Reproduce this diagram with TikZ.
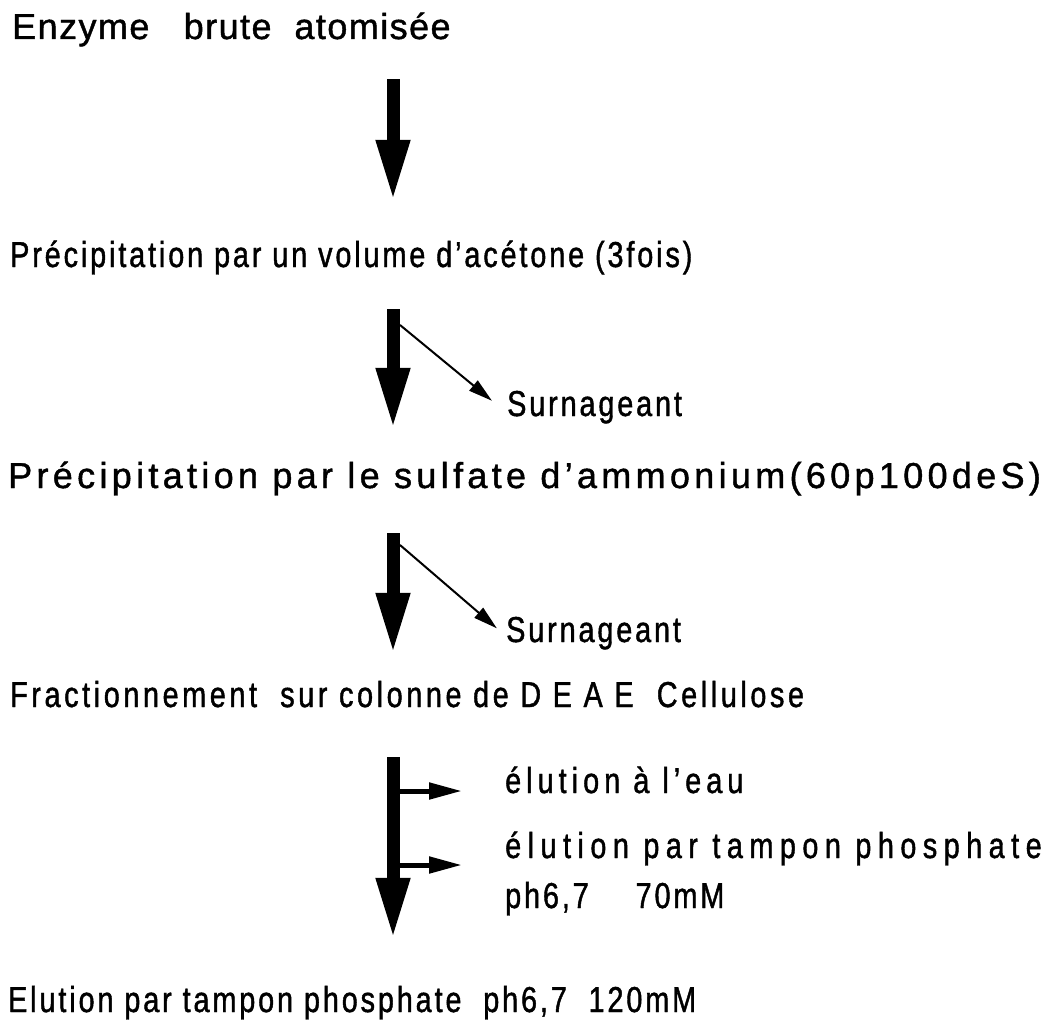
\documentclass[tikz,border=0pt]{standalone}
\usepackage{fontspec}
\setmainfont{Liberation Sans}[FakeStretch=0.8, LetterSpace=8, FakeBold=1.2]
\newfontfamily\widefont{Liberation Sans}[Ligatures=TeX, FakeBold=1.2]
\usetikzlibrary{arrows.meta}

\begin{document}
\begin{tikzpicture}[
  x=1pt, y=-1pt,
  font=\fontsize{36}{50}\selectfont,
  stage/.style={anchor=base west, inner sep=0pt, text height=26pt, text depth=8pt},
  side/.style={anchor=base west, inner sep=0pt, align=left},
  main/.style={line width=13pt, -{Triangle[length=62pt,width=31pt]}},
  waste/.style={line width=2pt, -{Triangle[length=24pt,width=13pt]}},
  branch/.style={line width=5pt, -{Triangle[length=33pt,width=16pt]}},
]
\useasboundingbox (0,0) rectangle (1054,1030);

\node[stage] (s1) at (12,39) {\widefont\addfontfeature{LetterSpace=4}Enzyme\ \ \ brute\ \ atomisée};
\node[stage] (s2) at (10,267) {Précipitation par un volume d'acétone (3fois)};
\node[stage] (s3) at (8,488) {\widefont\addfontfeature{LetterSpace=12}Précipitation par le sulfate d'ammonium(60p100deS)};
\node[stage] (s4) at (10,707) {\addfontfeature{LetterSpace=10}Fractionnement\ \ sur colonne de D E A E\ \ Cellulose};
\node[stage] (s5) at (8,1012) {Elution par tampon phosphate\ \ ph6,7\ \ 120mM};

\node[side] (sur1) at (507,416) {Surnageant};
\node[side] (sur2) at (506,642) {Surnageant};
\node[side] (elu1) at (505,793) {\addfontfeature{LetterSpace=14}élution à l'eau};
\node[side] (elu2) at (505,908) {\addfontfeature{LetterSpace=18}élution par tampon phosphate\\ph6,7 \quad 70mM};

\coordinate (spine) at (393,0);
\coordinate (cut1) at (400,325);
\coordinate (cut2) at (400,545);
\coordinate (f1) at (393,791);
\coordinate (f2) at (393,865);

\draw[main, shorten <=32pt, shorten >=39pt] (s1.south -| spine) -- (s2.north -| spine);
\draw[main, shorten <=34pt, shorten >=32pt] (s2.south -| spine) -- (s3.north -| spine);
\draw[main, shorten <=37pt, shorten >=26pt] (s3.south -| spine) -- (s4.north -| spine);
\draw[main, shorten <=42pt, shorten >=46pt] (s4.south -| spine) -- (s5.north -| spine);

\draw[waste, shorten >=19.5pt] (cut1) -- ([yshift=-6pt]sur1.west);
\draw[waste, shorten >=12pt] (cut2) -- ([yshift=-3pt]sur2.west);
\draw[branch, shorten >=43pt] (f1) -- (f1 -| elu1.west);
\draw[branch, shorten >=43pt] (f2) -- (f2 -| elu2.west);

\end{tikzpicture}
\end{document}
